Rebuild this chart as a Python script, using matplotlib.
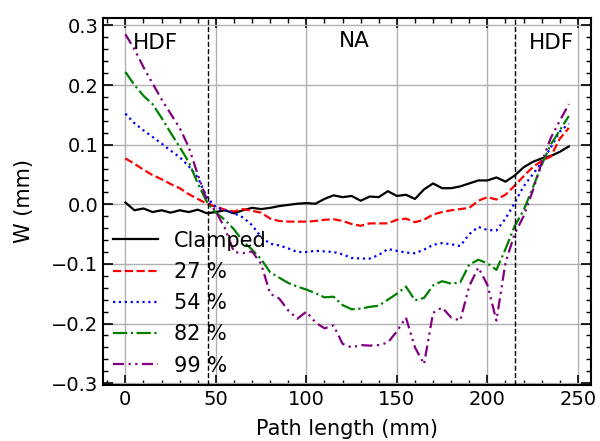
import numpy as np
import matplotlib.pyplot as plt

# path positions (mm)
x = np.arange(0, 250, 5)

clamped = [0.003, -0.010, -0.007, -0.013, -0.010, -0.014, -0.010, -0.013, -0.009, -0.015,
           -0.013, -0.010, -0.015, -0.010, -0.006, -0.008, -0.006, -0.003, -0.001, 0.001,
           0.002, 0.001, 0.009, 0.015, 0.012, 0.014, 0.006, 0.013, 0.012, 0.022,
           0.014, 0.016, 0.009, 0.025, 0.035, 0.027, 0.027, 0.030, 0.035, 0.040,
           0.040, 0.045, 0.038, 0.048, 0.062, 0.071, 0.077, 0.081, 0.088, 0.097]
p27 = [0.077, 0.068, 0.058, 0.049, 0.042, 0.034, 0.027, 0.017, 0.009, 0.001,
       -0.004, -0.009, -0.012, -0.008, -0.011, -0.014, -0.024, -0.028, -0.029, -0.029,
       -0.029, -0.028, -0.026, -0.025, -0.028, -0.033, -0.036, -0.032, -0.032, -0.032,
       -0.026, -0.024, -0.030, -0.026, -0.017, -0.013, -0.010, -0.008, -0.006, 0.006,
       0.012, 0.008, 0.016, 0.031, 0.047, 0.062, 0.073, 0.080, 0.110, 0.128]
p54 = [0.152, 0.136, 0.124, 0.113, 0.102, 0.090, 0.079, 0.064, 0.045, 0.012,
       -0.005, -0.010, -0.015, -0.022, -0.035, -0.055, -0.066, -0.069, -0.074, -0.080,
       -0.080, -0.078, -0.079, -0.080, -0.084, -0.090, -0.091, -0.091, -0.085, -0.075,
       -0.078, -0.081, -0.082, -0.076, -0.068, -0.065, -0.067, -0.070, -0.050, -0.038,
       -0.043, -0.044, -0.024, 0.002, 0.030, 0.050, 0.070, 0.095, 0.122, 0.135]
p82 = [0.222, 0.200, 0.182, 0.168, 0.145, 0.120, 0.096, 0.071, 0.035, 0.004,
       -0.014, -0.026, -0.042, -0.062, -0.076, -0.092, -0.114, -0.123, -0.132, -0.138,
       -0.143, -0.149, -0.156, -0.155, -0.169, -0.176, -0.175, -0.172, -0.170, -0.160,
       -0.150, -0.138, -0.161, -0.157, -0.136, -0.129, -0.133, -0.131, -0.101, -0.093,
       -0.099, -0.110, -0.075, -0.037, -0.010, 0.027, 0.066, 0.100, 0.124, 0.148]
p99 = [0.285, 0.260, 0.230, 0.203, 0.176, 0.152, 0.128, 0.096, 0.050, 0.007,
       -0.012, -0.040, -0.080, -0.082, -0.079, -0.100, -0.150, -0.158, -0.178, -0.192,
       -0.180, -0.198, -0.208, -0.203, -0.234, -0.240, -0.236, -0.237, -0.236, -0.232,
       -0.213, -0.190, -0.240, -0.268, -0.182, -0.173, -0.190, -0.195, -0.137, -0.106,
       -0.135, -0.195, -0.098, -0.050, -0.020, 0.022, 0.070, 0.111, 0.140, 0.168]

fig = plt.figure(figsize=(6, 4.41), dpi=100)
ax = fig.add_axes([0.172, 0.127, 0.813, 0.833])

lw = 1.6
ax.plot(x, clamped, color='k', lw=lw, label='Clamped')
ax.plot(x, p27, color='r', lw=lw, ls='--', label='27 %')
ax.plot(x, p54, color='b', lw=lw, ls=':', label='54 %')
ax.plot(x, p82, color='g', lw=lw, ls='-.', label='82 %')
ax.plot(x, p99, color='purple', lw=lw, dashes=[5, 2, 1, 2, 1, 2], label='99 %')

ax.axvline(45.5, color='k', ls='--', lw=1.0)
ax.axvline(215, color='k', ls='--', lw=1.0)

ax.text(4, 0.27, 'HDF', fontsize=15.5, va='center')
ax.text(126.5, 0.273, 'NA', fontsize=15.5, va='center', ha='center')
ax.text(223, 0.27, 'HDF', fontsize=15.5, va='center')

ax.set_xticks([0, 50, 100, 150, 200, 250])
ax.set_yticks([-0.3, -0.2, -0.1, 0.0, 0.1, 0.2, 0.3])
ax.set_xticks(np.arange(-10, 260, 10), minor=True)
ax.set_yticks(np.arange(-0.30, 0.31, 0.02), minor=True)
ax.set_xlim(-12.25, 257.25)
ax.set_ylim(-0.303, 0.313)
ax.grid(True, color='#b0b0b0', lw=1.0)
ax.tick_params(which='both', direction='in', top=True, right=True, labelsize=14)
ax.tick_params(which='major', length=7, width=1.2)
ax.tick_params(which='minor', length=3.5, width=1.0)
for s in ax.spines.values():
    s.set_linewidth(1.5)

ax.set_xlabel('Path length (mm)', fontsize=15, labelpad=7)
ax.set_ylabel('W (mm)', fontsize=15, labelpad=12)

ax.legend(loc='lower left', frameon=False, fontsize=15, handlelength=2.2,
          labelspacing=0.54, borderaxespad=0.05, handletextpad=0.75)

fig.savefig('out.png', dpi=100)
